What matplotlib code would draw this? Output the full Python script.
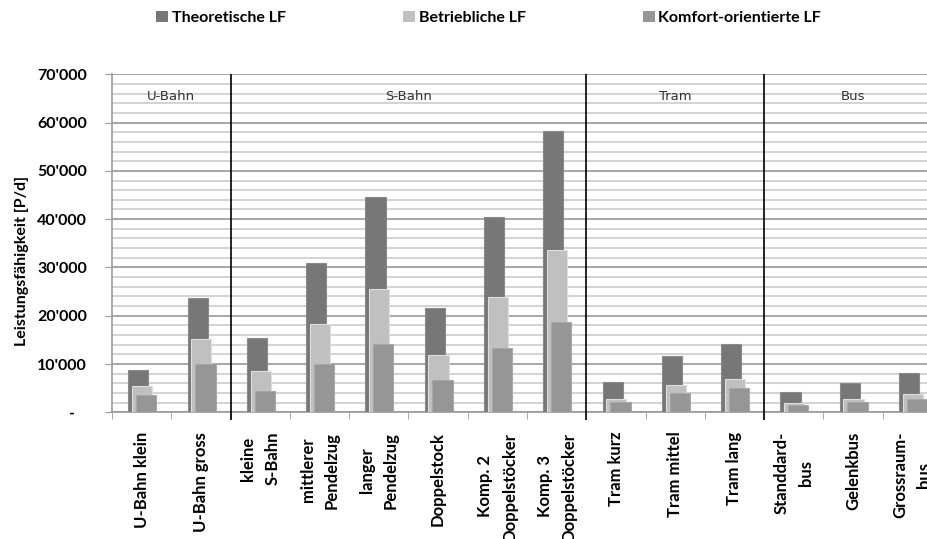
import matplotlib.pyplot as plt
import numpy as np
from matplotlib.patches import Patch

# Fahrzeugtypen und Leistungsfähigkeiten [P/d]
categories = ['U-Bahn klein', 'U-Bahn gross', 'kleine\nS-Bahn', 'mittlerer\nPendelzug',
              'langer\nPendelzug', 'Doppelstock', 'Komp. 2\nDoppelstöcker',
              'Komp. 3\nDoppelstöcker', 'Tram kurz', 'Tram mittel', 'Tram lang',
              'Standdard-\nbus', 'Gelenkbus', 'Grossraum-\nbus']
theoretisch = [8800, 23700, 15300, 30900, 44600, 21500, 40400, 58300,
               6200, 11700, 14100, 4200, 6100, 8200]
betrieblich = [5450, 15250, 8500, 18300, 25600, 11900, 23900, 33550,
               2750, 5600, 6800, 1900, 2750, 3800]
komfort = [3600, 10050, 4400, 10050, 14200, 6600, 13250, 18700,
           2150, 3950, 4950, 1450, 2150, 2750]
series_names = ['Theoretische LF', 'Betriebliche LF', 'Komfort-orientierte LF']

# Gruppen: (Name, erster Index, letzter Index)
groups = [('U-Bahn', 0, 1), ('S-Bahn', 2, 7), ('Tram', 8, 10), ('Bus', 11, 13)]

colors = ['#777777', '#c0c0c0', '#969696']
edges = ['#8a8a8a', '#dedede', '#a8a8a8']
offsets = [-0.056, 0.008, 0.076]
width = 0.34

fig = plt.figure(figsize=(9.28, 5.39), dpi=100)
ax = fig.add_axes([112 / 928, 1 - 412.3 / 539, 830 / 928, 338 / 539])

x = np.arange(len(categories))
for i, vals in enumerate([theoretisch, betrieblich, komfort]):
    ax.bar(x + offsets[i], vals, width=width, color=colors[i], edgecolor=edges[i],
           linewidth=0.8, zorder=3 + i)

ax.set_xlim(-0.5, len(categories) - 0.5)
ax.set_ylim(0, 70000)

# Gitternetz: Haupt- alle 10'000, Hilfslinien alle 2'000
ax.set_yticks(np.arange(0, 70001, 10000))
ax.set_yticks(np.arange(0, 70001, 2000), minor=True)
ax.yaxis.grid(True, which='minor', color='#d0d0d0', linewidth=1.3, zorder=0)
ax.yaxis.grid(True, which='major', color='#a0a0a0', linewidth=1.3, zorder=1)
ax.set_axisbelow(True)

ylabels = [f"{v:,}".replace(',', "'") if v else '-   ' for v in range(0, 70001, 10000)]
ax.set_yticklabels(ylabels, fontsize=11.5, fontweight='bold', family='Lato')
ax.tick_params(axis='y', which='major', length=5, color='#999999', pad=13)
ax.tick_params(axis='y', which='minor', length=0)

# Kategorien senkrecht, Zeilen zentriert, Block oben am Achsenrand
ax.set_xticks(x)
ax.set_xticklabels(categories, rotation=90, rotation_mode='anchor', fontsize=12,
                   fontweight='bold', family='Lato', ha='right', va='center',
                   multialignment='center', linespacing=1.6)
ax.set_xticks(np.arange(-0.5, len(categories), 1), minor=True)
ax.tick_params(axis='x', which='major', length=0, pad=14)
ax.tick_params(axis='x', which='minor', length=5, color='#999999')

for side in ['top', 'right']:
    ax.spines[side].set_visible(False)
for side in ['left', 'bottom']:
    ax.spines[side].set_color('#999999')
    ax.spines[side].set_linewidth(1.2)

# Trennlinien und Gruppenbeschriftung
for name, a, b in groups:
    ax.text((a + b) / 2, 65500, name, ha='center', va='center', fontsize=9.5,
            family='DejaVu Sans', color='#333333', zorder=6)
    if a > 0:
        ax.vlines(a - 0.5, -1500, 70000, color='black', linewidth=1.2,
                  clip_on=False, zorder=7)

fig.text(22 / 928, 1 - 261 / 539, 'Leistungsfähigkeit [P/d]', rotation=90,
         ha='center', va='center', fontsize=11.5, fontweight='bold', family='Lato')

handles = [Patch(facecolor=c) for c in colors]
fig.legend(handles, series_names, loc='center left', bbox_to_anchor=(150 / 928, 1 - 18 / 539),
           ncol=3, frameon=False, prop={'family': 'Lato', 'weight': 'bold', 'size': 11.5},
           handlelength=0.75, handleheight=0.75, handletextpad=0.25, columnspacing=7.3,
           borderaxespad=0)

fig.savefig('out.png', dpi=100)
